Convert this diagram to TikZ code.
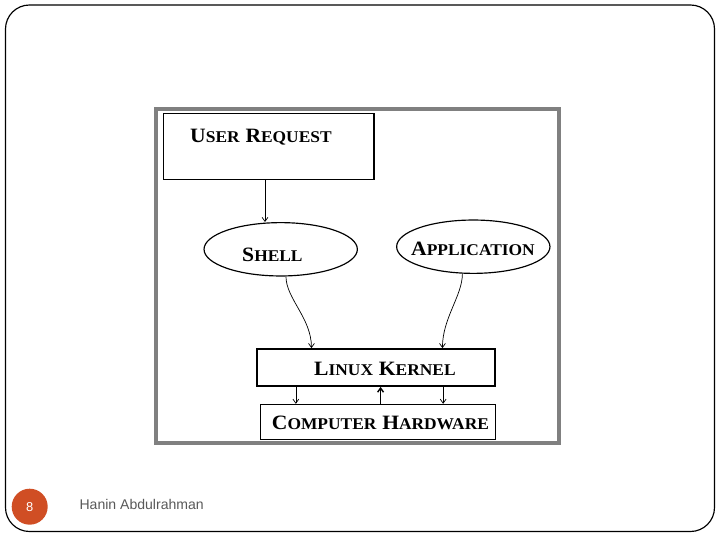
\documentclass[tikz,border=0pt]{standalone}
\usepackage{fontspec}
\usetikzlibrary{shapes.geometric,arrows.meta,calc}
\setmainfont{Liberation Sans}
\newfontfamily\copperfont[FakeStretch=1.06]{Liberation Serif}
\newcommand{\capword}[2]{{\fontsize{17.4}{20}\selectfont #1}{\fontsize{14}{16}\selectfont #2}}
\newcommand{\capgap}{\hspace{5pt}}
\definecolor{pagered}{RGB}{208,78,36}

\begin{document}
\begin{tikzpicture}[
  x=0.03cm, y=-0.03cm,
  box/.style={draw, rectangle, inner sep=0pt, line width=1pt},
  oval/.style={draw, ellipse, inner sep=0pt, line width=1pt, minimum width=4.6cm, minimum height=1.6cm},
  lbl/.style={anchor=base west, inner sep=0pt, font=\copperfont\bfseries},
  arr/.style={-{Straight Barb[length=3.5pt,width=5pt]}, line width=0.6pt}
]
\useasboundingbox (0,0) rectangle (720,540);

% Slide
\draw[line width=1pt, rounded corners=0.72cm] (5.5,5) rectangle (714.5,531.5);
\node[circle, fill=pagered, minimum size=1.08cm, inner sep=0pt, text=white, font=\fontsize{11}{13}\selectfont] (pgnum) at (29.7,506.7) {8};
\node[anchor=base west, inner sep=0pt, text=black!65, font=\fontsize{12}{14}\selectfont] (author) at (79.3,509) {Hanin Abdulrahman};

% Picture frame
\draw[black!50, line width=2.8pt] (156,109) rectangle (559,443);

% Boxes and ovals
\node[box, minimum width=6.32cm, minimum height=1.98cm] (req) at (268.7,146.3) {};
\node[oval] (shell) at (280.7,249.3) {};
\node[oval] (app) at (473.3,246.7) {};
\node[box, line width=1.5pt, minimum width=7.15cm, minimum height=1.11cm] (kernel) at (375.9,367.5) {};
\node[box, line width=0.8pt, minimum width=7.03cm, minimum height=1.05cm] (hw) at (377.9,421.8) {};

% Labels
\node[lbl] (reqtext) at (190,143) {\capword{U}{SER}\capgap\capword{R}{EQUEST}};
\node[lbl] (shelltext) at (242,261.5) {\capword{S}{HELL}};
\node[lbl] (apptext) at (411,256) {\capword{A}{PPLICATION}};
\node[lbl] (kerneltext) at (314,376) {\capword{L}{INUX}\capgap\capword{K}{ERNEL}};
\node[lbl] (hwtext) at (271.7,429) {\capword{C}{OMPUTER}\capgap\capword{H}{ARDWARE}};

% Connectors
\coordinate (reqout) at ($(req.south)+(-3.7,0)$);
\draw[arr] (reqout) -- (reqout |- shell.north);
\draw[arr] (shell.281) .. controls +(0,22) and +(0,-30) .. ($(kernel.north west)+(55.6,0)$);
\draw[arr] (app.248) .. controls +(0,22) and +(0,-30) .. ($(kernel.north west)+(186.6,0)$);
\coordinate (kd1) at ($(kernel.south west)+(40,0)$);
\coordinate (kd2) at ($(kernel.south west)+(187.3,0)$);
\coordinate (hu) at ($(hw.north west)+(120.3,0)$);
\draw[arr] (kd1) -- (kd1 |- hw.north);
\draw[arr] (kd2) -- (kd2 |- hw.north);
\draw[arr, line width=1.2pt] (hu) -- (hu |- kernel.south);
\end{tikzpicture}
\end{document}
